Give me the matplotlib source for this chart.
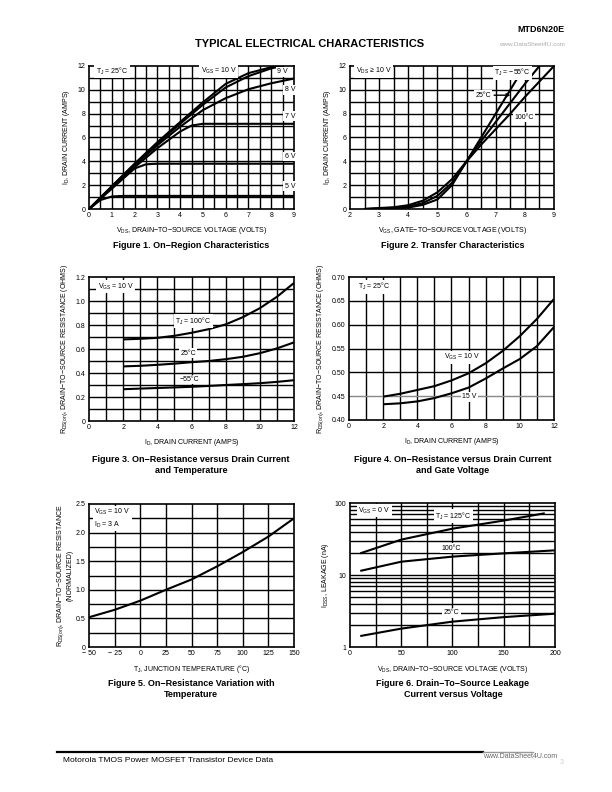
import numpy as np
import matplotlib
matplotlib.use("Agg")
import matplotlib.pyplot as plt
from matplotlib.ticker import FixedLocator, NullFormatter

plt.rcParams['font.family'] = ['Liberation Sans', 'DejaVu Sans']
plt.rcParams['mathtext.fontset'] = 'custom'
plt.rcParams['mathtext.rm'] = 'Liberation Sans'
plt.rcParams['mathtext.it'] = 'Liberation Sans'

# ---- Figure 1: on-region characteristics
f1_vds = {
    '10': [0, 1, 2, 3, 4, 5, 6, 7, 8, 8.3],
    '9': [0, 1, 2, 3, 4, 5, 6, 7, 8, 8.5],
    '8': [0, 1, 2, 3, 4, 5, 6, 7, 8, 9],
    '7': [0, 1, 2, 3, 4, 4.5, 5, 9],
    '6': [0, 1, 2, 2.5, 3, 9],
    '5': [0, 0.5, 1, 1.5, 9],
}
f1_id = {
    '10': [0, 1.9, 3.8, 5.6, 7.3, 8.95, 10.5, 11.4, 11.9, 12.0],
    '9': [0, 1.9, 3.75, 5.5, 7.15, 8.75, 10.2, 11.15, 11.8, 12.0],
    '8': [0, 1.85, 3.65, 5.35, 6.9, 8.3, 9.3, 10.05, 10.55, 10.95],
    '7': [0, 1.8, 3.5, 5.1, 6.5, 7.0, 7.15, 7.15],
    '6': [0, 1.7, 3.4, 3.75, 3.8, 3.8],
    '5': [0, 0.75, 1.05, 1.1, 1.1],
}

# ---- Figure 2: transfer characteristics
f2_vgs = [2.5, 3, 3.5, 4, 4.5, 5, 5.5, 6, 6.5, 7, 7.5, 8, 8.5, 9]
f2_id = {
    '-55': [0, 0.02, 0.05, 0.12, 0.35, 0.8, 2.0, 4.0, 6.0, 8.0, 10.0, 12.0, None, None],
    '25': [0, 0.04, 0.09, 0.2, 0.5, 1.1, 2.2, 4.0, 5.7, 7.3, 8.9, 10.5, 12.0, None],
    '100': [0, 0.08, 0.15, 0.32, 0.7, 1.4, 2.5, 4.0, 5.4, 6.7, 8.0, 9.4, 10.7, 12.0],
}

# ---- Figure 3: on-resistance vs drain current and temperature
f3_id = [2, 3, 4, 5, 6, 7, 8, 9, 10, 11, 12]
f3_r = {
    '100': [0.68, 0.685, 0.693, 0.71, 0.735, 0.765, 0.805, 0.865, 0.94, 1.035, 1.15],
    '25': [0.455, 0.46, 0.468, 0.478, 0.49, 0.5, 0.515, 0.535, 0.565, 0.605, 0.655],
    '-55': [0.265, 0.27, 0.275, 0.28, 0.285, 0.292, 0.3, 0.307, 0.315, 0.326, 0.34],
}

# ---- Figure 4: on-resistance vs drain current and gate voltage
f4_id = [2, 3, 4, 5, 6, 7, 8, 9, 10, 11, 12]
f4_r = {
    '10': [0.449, 0.455, 0.463, 0.471, 0.483, 0.498, 0.519, 0.545, 0.576, 0.612, 0.654],
    '15': [0.433, 0.435, 0.439, 0.446, 0.456, 0.468, 0.487, 0.508, 0.528, 0.555, 0.595],
}

# ---- Figure 5: normalized on-resistance vs temperature
f5_t = [-50, -25, 0, 25, 50, 75, 100, 125, 150]
f5_r = [0.52, 0.65, 0.81, 1.0, 1.18, 1.41, 1.66, 1.93, 2.25]

# ---- Figure 6: leakage vs drain voltage
f6_vds = {
    '125': [10, 50, 100, 150, 190],
    '100': [10, 50, 100, 150, 200],
    '25': [10, 50, 100, 150, 200],
}
f6_i = {
    '125': [20, 31, 44, 57, 72],
    '100': [11.4, 15.3, 18.0, 20.0, 22.0],
    '25': [1.42, 1.8, 2.25, 2.6, 2.9],
}

W, H = 612, 792
fig = plt.figure(figsize=(W / 100, H / 100), dpi=100)

def ax_at(l, t, r, b):
    return fig.add_axes([l / W, 1 - b / H, (r - l) / W, (b - t) / H])

GRID = dict(color='black', linewidth=1.0)
LINE = dict(color='black', linewidth=1.5, solid_capstyle='butt')
BOX = dict(facecolor='white', edgecolor='none', pad=1.0)
FS = 5

def style(ax, xlim, ylim, xmaj, ymaj, xgrid, ygrid):
    ax.set_xlim(*xlim)
    ax.set_ylim(*ylim)
    ax.xaxis.set_major_locator(FixedLocator(xmaj))
    ax.yaxis.set_major_locator(FixedLocator(ymaj))
    for v in xgrid:
        ax.axvline(v, **GRID, zorder=1)
    for v in ygrid:
        ax.axhline(v, **GRID, zorder=1)
    ax.tick_params(length=0, labelsize=FS, pad=2.5)
    for s in ax.spines.values():
        s.set_linewidth(1.2)

def label(ax, x, y, s, ha='left'):
    ax.text(x, y, s, fontsize=FS, ha=ha, va='center', bbox=BOX, zorder=3)

# Figure 1
ax1 = ax_at(89, 66, 294, 209)
style(ax1, (0, 9), (0, 12), range(10), range(0, 13, 2),
      np.arange(0.5, 9, 0.5), range(1, 12))
for k in f1_vds:
    ax1.plot(f1_vds[k], f1_id[k], **LINE, zorder=2)
label(ax1, 0.3, 11.55, r'T$_{\rm J}$ = 25°C')
label(ax1, 4.9, 11.55, r'V$_{\rm GS}$ = 10 V')
label(ax1, 8.25, 11.5, '9 V')
label(ax1, 8.6, 10.0, '8 V')
label(ax1, 8.6, 7.8, '7 V')
label(ax1, 8.6, 4.4, '6 V')
label(ax1, 8.6, 1.9, '5 V')
ax1.set_xlabel(r'V$_{\rm DS}$, DRAIN−TO−SOURCE VOLTAGE (VOLTS)', fontsize=FS, labelpad=4)
ax1.set_ylabel(r'I$_{\rm D}$, DRAIN CURRENT (AMPS)', fontsize=FS, labelpad=4)

# Figure 2
ax2 = ax_at(350, 66, 554, 209)
style(ax2, (2, 9), (0, 12), range(2, 10), range(0, 13, 2),
      np.arange(2.5, 9, 0.5), range(1, 12))
for k in f2_id:
    xs = [x for x, y in zip(f2_vgs, f2_id[k]) if y is not None]
    ys = [y for y in f2_id[k] if y is not None]
    ax2.plot(xs, ys, **LINE, zorder=2)
label(ax2, 2.2, 11.55, r'V$_{\rm DS}$ ≥ 10 V')
label(ax2, 6.95, 11.45, r'T$_{\rm J}$ = −55°C')
label(ax2, 6.3, 9.55, '25°C')
ax2.annotate('', xy=(7.6, 9.55), xytext=(6.85, 9.55),
             arrowprops=dict(arrowstyle='-|>', color='black', lw=1.0,
                             mutation_scale=5), zorder=3)
label(ax2, 7.65, 7.7, '100°C')
ax2.set_xlabel(r'V$_{\rm GS}$, GATE−TO−SOURCE VOLTAGE (VOLTS)', fontsize=FS, labelpad=4)
ax2.set_ylabel(r'I$_{\rm D}$, DRAIN CURRENT (AMPS)', fontsize=FS, labelpad=4)

# Figure 3
ax3 = ax_at(89, 277, 294, 421)
style(ax3, (0, 12), (0, 1.2), range(0, 13, 2), np.arange(0, 1.21, 0.2),
      range(1, 12), np.arange(0.1, 1.2, 0.1))
ax3.yaxis.set_major_formatter(plt.FuncFormatter(lambda v, p: '0' if v == 0 else f'{v:.1f}'))
for k in f3_r:
    ax3.plot(f3_id, f3_r[k], **LINE, zorder=2)
label(ax3, 0.5, 1.12, r'V$_{\rm GS}$ = 10 V')
label(ax3, 6.1, 0.83, r'T$_{\rm J}$ = 100°C', ha='center')
label(ax3, 5.8, 0.565, '25°C', ha='center')
label(ax3, 5.9, 0.345, '−55°C', ha='center')
ax3.set_xlabel(r'I$_{\rm D}$, DRAIN CURRENT (AMPS)', fontsize=FS, labelpad=4)
ax3.set_ylabel(r'R$_{\rm DS(on)}$, DRAIN−TO−SOURCE RESISTANCE (OHMS)', fontsize=FS, labelpad=4)

# Figure 4
ax4 = ax_at(349, 277, 554, 420)
style(ax4, (0, 12), (0.40, 0.70), range(0, 13, 2), np.arange(0.40, 0.701, 0.05),
      range(1, 12), [0.50, 0.55, 0.60, 0.65])
ax4.axhline(0.45, color='#888888', linewidth=1.0, zorder=1)
ax4.yaxis.set_major_formatter(plt.FuncFormatter(lambda v, p: f'{v:.2f}'))
for k in f4_r:
    ax4.plot(f4_id, f4_r[k], **LINE, zorder=2)
label(ax4, 0.5, 0.68, r'T$_{\rm J}$ = 25°C')
label(ax4, 6.6, 0.532, r'V$_{\rm GS}$ = 10 V', ha='center')
label(ax4, 7.05, 0.449, '15 V', ha='center')
ax4.set_xlabel(r'I$_{\rm D}$, DRAIN CURRENT (AMPS)', fontsize=FS, labelpad=4)
ax4.set_ylabel(r'R$_{\rm DS(on)}$, DRAIN−TO−SOURCE RESISTANCE (OHMS)', fontsize=FS, labelpad=4)

# Figure 5
ax5 = ax_at(89, 504, 294, 647)
style(ax5, (-50, 150), (0, 2.5), range(-50, 151, 25), np.arange(0, 2.51, 0.5),
      range(-25, 150, 25), np.arange(0.25, 2.5, 0.25))
ax5.xaxis.set_major_formatter(plt.FuncFormatter(lambda v, p: f'{int(v)}'.replace('-', '− ')))
ax5.yaxis.set_major_formatter(plt.FuncFormatter(lambda v, p: '0' if v == 0 else f'{v:.1f}'))
ax5.plot(f5_t, f5_r, **LINE, zorder=2)
ax5.text(-45, 2.25, 'V$_{\\rm GS}$ = 10 V\nI$_{\\rm D}$ = 3 A', fontsize=FS, ha='left', va='center',
         bbox=BOX, zorder=3, linespacing=1.3)
ax5.set_xlabel(r'T$_{\rm J}$, JUNCTION TEMPERATURE (°C)', fontsize=FS, labelpad=4)
ax5.set_ylabel('R$_{\\rm DS(on)}$, DRAIN−TO−SOURCE RESISTANCE\n(NORMALIZED)', fontsize=FS,
               labelpad=1.5, linespacing=1.1)

# Figure 6
ax6 = ax_at(350, 503, 555, 647)
ax6.set_yscale('log')
style(ax6, (0, 200), (1, 100), range(0, 201, 50), [1, 10, 100],
      range(25, 200, 25),
      [m * d for d in (1, 10) for m in range(2, 10)] + [10])
ax6.yaxis.set_minor_formatter(NullFormatter())
ax6.yaxis.set_major_formatter(plt.FuncFormatter(lambda v, p: f'{int(v)}'))
ax6.tick_params(which='minor', length=0)
for k in f6_i:
    ax6.plot(f6_vds[k], f6_i[k], **LINE, zorder=2)
label(ax6, 8, 78, r'V$_{\rm GS}$ = 0 V')
label(ax6, 101, 65, r'T$_{\rm J}$ = 125°C', ha='center')
label(ax6, 99, 23.6, '100°C', ha='center')
label(ax6, 99, 3.0, '25°C', ha='center')
ax6.set_xlabel(r'V$_{\rm DS}$, DRAIN−TO−SOURCE VOLTAGE (VOLTS)', fontsize=FS, labelpad=5)
ax6.set_ylabel(r'I$_{\rm DSS}$, LEAKAGE (nA)', fontsize=FS, labelpad=3)

# page texts
def ptext(x, y, s, **kw):
    fig.text(x / W, 1 - y / H, s, **kw)

ptext(565, 30, 'MTD6N20E', fontsize=6.5, fontweight='bold', ha='right', va='center')
ptext(565, 44, 'www.DataSheet4U.com', fontsize=4.5, color='#aaaaaa', ha='right', va='center')
ptext(310, 44, 'TYPICAL ELECTRICAL CHARACTERISTICS', fontsize=8, fontweight='bold',
      ha='center', va='center')
cap = dict(fontsize=6.5, fontweight='bold', ha='center', va='center', linespacing=1.35)
ptext(191, 246, 'Figure 1. On−Region Characteristics', **cap)
ptext(453, 246, 'Figure 2. Transfer Characteristics', **cap)
ptext(191, 465, 'Figure 3. On−Resistance versus Drain Current\nand Temperature', **cap)
ptext(453, 465, 'Figure 4. On−Resistance versus Drain Current\nand Gate Voltage', **cap)
ptext(191, 689, 'Figure 5. On−Resistance Variation with\nTemperature', **cap)
ptext(453, 689, 'Figure 6. Drain−To−Source Leakage\nCurrent versus Voltage', **cap)

fig.add_artist(plt.Line2D([57 / W, 483 / W], [1 - 752 / H] * 2, color='black', linewidth=1.6))
fig.add_artist(plt.Line2D([483 / W, 533 / W], [1 - 752 / H] * 2, color='#999999', linewidth=1.0))
ptext(63, 761, 'Motorola TMOS Power MOSFET Transistor Device Data', fontsize=6, ha='left', va='center')
ptext(483, 757, 'www.DataSheet4U.com', fontsize=5, color='#666666', ha='left', va='center')
ptext(562, 763, '3', fontsize=5, color='#cccccc', ha='center', va='center')

fig.savefig('out.png', dpi=100)
